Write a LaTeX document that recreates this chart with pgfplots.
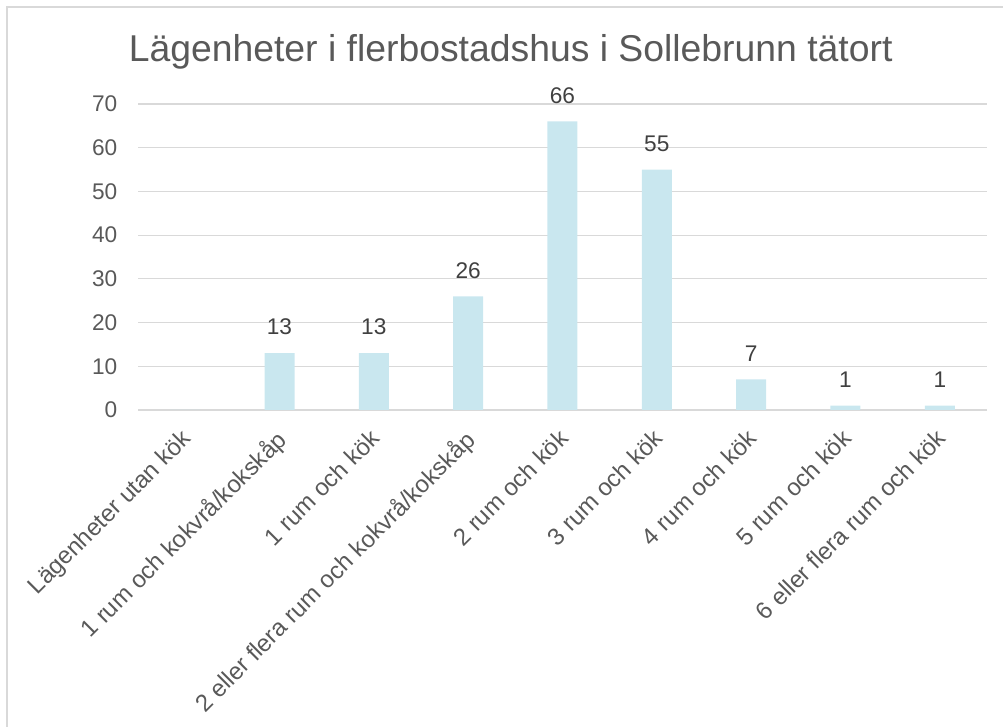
\documentclass[border=0pt]{standalone}
\usepackage{fontspec}
\setmainfont{Liberation Sans}
\usepackage{pgfplots}
\pgfplotsset{compat=1.18}
\definecolor{barc}{HTML}{C9E7EF}
\definecolor{gridc}{HTML}{D9D9D9}
\definecolor{txt}{HTML}{595959}
\definecolor{lab}{HTML}{404040}
\begin{document}
\begin{tikzpicture}[x=1pt,y=1pt]
\useasboundingbox (0,0) rectangle (752.25,545.25);
\begin{scope}
\clip (0,0) rectangle (752.25,545.25);
\draw[gridc, line width=1.2pt] (5.25,-20) rectangle (780,540);
\end{scope}
\node[txt, font=\fontsize{28}{34}\selectfont, anchor=base] at (383,498.75) {Lägenheter i flerbostadshus i Sollebrunn tätort};
\begin{axis}[
  at={(103.5pt,237.75pt)}, anchor=south west,
  scale only axis, width=636.75pt, height=229.5pt,
  xmin=-0.5, xmax=8.5, ymin=0, ymax=70,
  ytick={0,10,...,70},
  xtick={0,...,8},
  xticklabels={Lägenheter utan kök,1 rum och kokvrå/kokskåp,1 rum och kök,2 eller flera rum och kokvrå/kokskåp,2 rum och kök,3 rum och kök,4 rum och kök,5 rum och kök,6 eller flera rum och kök},
  axis line style={draw=none},
  axis x line*=bottom,
  ymajorgrids, grid style={gridc, line width=0.9pt},
  major tick length=0pt,
  tick style={draw=none},
  /pgf/number format/assume math mode=true,
  yticklabel style={txt, font=\fontsize{17}{20}\selectfont, xshift=-12pt},
  xticklabel style={txt, font=\fontsize{18}{21}\selectfont, rotate=45, anchor=north east, xshift=-8.8pt, yshift=-3.4pt},
  clip=false,
]
\draw[gridc, line width=0.9pt] (axis cs:-0.5,0) -- (axis cs:8.5,0);
\addplot[ybar, bar width=22.5pt, fill=barc, draw=none, forget plot] coordinates {(0,0)};
\addplot[ybar, bar width=22.5pt, fill=barc, draw=none,
  nodes near coords, nodes near coords style={lab, font=\fontsize{17}{20}\selectfont, anchor=south, yshift=10pt}]
  coordinates {(1,13) (2,13) (3,26) (4,66) (5,55) (6,7) (7,1) (8,1)};
\end{axis}
\end{tikzpicture}
\end{document}
